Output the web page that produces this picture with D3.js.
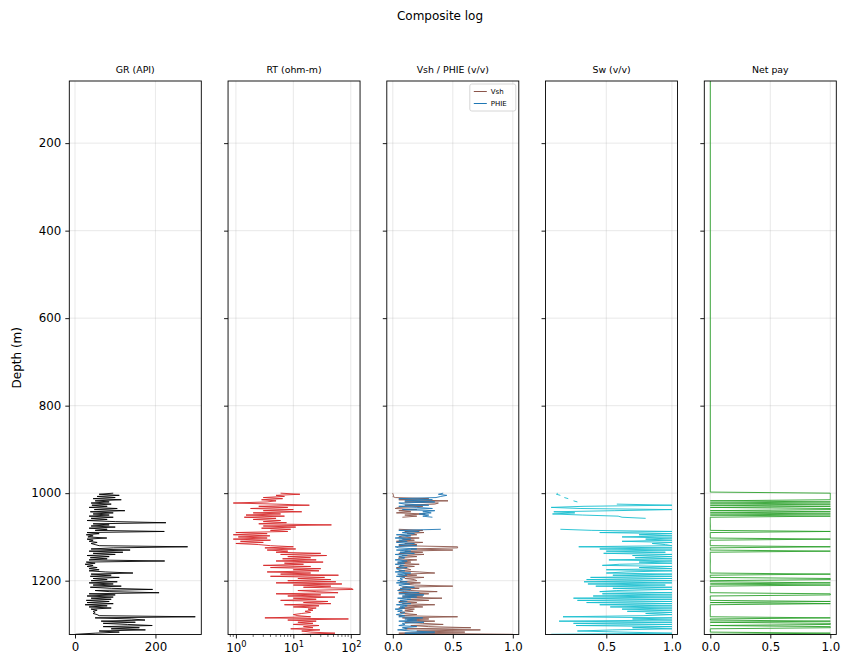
<!DOCTYPE html>
<html>
<head>
<meta charset="utf-8">
<script src="https://cdn.jsdelivr.net/npm/d3@7"></script>
<style>
  body { margin: 0; background: #fff; }
  text { font-family: "DejaVu Sans", sans-serif; fill: #000; }
</style>
</head>
<body>
<div id="chart"></div>
<script>
const width = 848, height = 668;

// depth range of the log file; curves start at 1000 m, sampled every 2.5 m
const depthTop = 58, depthBottom = 1323;
const depthStart = 1000, depthStep = 2.5;
const depthTicks = [200, 400, 600, 800, 1000, 1200];

const gr = [
  95, 60, 110, 55, 100, 45, 115, 50, 85, 40,
  90, 42, 80, 35, 105, 48, 124, 38, 95, 45,
  85, 35, 95, 40, 80, 30, 100, 226, 45, 85,
  40, 100, 35, 80, 50, 222, 30, 60, 28, 45,
  32, 79, 30, 45, 35, 55, 40, 50, 60, 280,
  95, 40, 137, 35, 119, 45, 100, 30, 85, 38,
  80, 35, 223, 28, 50, 25, 45, 30, 55, 35,
  60, 35, 75, 144, 40, 90, 38, 110, 45, 80,
  40, 105, 35, 95, 45, 115, 38, 90, 193, 50,
  85, 209, 35, 100, 30, 95, 40, 90, 28, 85,
  30, 95, 25, 80, 35, 90, 40, 55, 45, 50,
  45, 55, 60, 299, 50, 140, 174, 65, 150, 70,
  130, 192, 70, 160, 90, 175, 60, 110, 50, 1
];

const rt = [
  6, 13, 5, 7, 3, 6.5, 2.8, 5, 3.5, 0.9,
  5, 19, 2.5, 8, 1.8, 10, 3, 14, 2, 6,
  1.5, 7, 1.4, 5, 2, 6, 3, 7.6, 2.5, 46,
  3, 11, 2.8, 9, 4, 8, 1.0, 3.5, 0.9, 3.9,
  1.1, 3.5, 0.9, 4, 1.2, 3, 1.0, 2.5, 4, 10,
  3.2, 11, 3.5, 8, 5, 30, 6, 38, 8, 20,
  6.5, 25, 5, 33, 7, 15, 3, 20, 4, 30,
  10, 28, 3.5, 20, 6, 61, 4, 35, 12, 45,
  8, 55, 5, 70, 10, 45, 15, 100, 110, 12,
  25, 60, 5, 30, 8, 53, 10, 25, 6, 40,
  15, 45, 7, 28, 10, 25, 18, 22, 16, 20,
  14, 10, 12, 20, 3.2, 91, 8, 25, 12, 22,
  10, 28, 15, 22, 9, 29, 14, 20, 53, 14
];

const vsh = [
  0.0, 0.0, 0.01, 0.0, 0.02, 0.30, 0.05, 0.46, 0.10, 0.38,
  0.35, 0.10, 0.25, 0.05, 0.02, 0.20, 0.05, 0.15, 0.03, 0.27,
  0.10, 0.20, 0.08, null, null, null, null, null, null, null,
  null, null, null, 0.05, 0.25, 0.10, 0.26, 0.12, 0.20, 0.08,
  0.05, 0.22, 0.08, 0.18, 0.03, 0.25, 0.10, 0.20, 0.05, 0.54,
  0.54, 0.15, 0.50, 0.10, 0.25, 0.05, 0.26, 0.08, 0.20, 0.05,
  0.05, 0.20, 0.08, 0.15, 0.04, 0.22, 0.06, 0.18, 0.03, 0.12,
  0.15, 0.05, 0.22, 0.35, 0.10, 0.20, 0.05, 0.26, 0.10, 0.18,
  0.20, 0.06, 0.23, 0.10, 0.18, 0.50, 0.08, 0.22, 0.05, 0.15,
  0.37, 0.05, 0.30, 0.10, 0.25, 0.08, 0.41, 0.12, 0.30, 0.05,
  0.20, 0.08, 0.35, 0.10, 0.25, 0.05, 0.18, 0.10, 0.17, 0.06,
  0.10, 0.20, 0.05, 0.54, 0.08, 0.30, 0.12, 0.35, 0.10, 0.25,
  0.42, 0.15, 0.30, 0.65, 0.10, 0.73, 0.20, 0.60, 0.05, 1.0
];

const phie = [
  0.42, 0.38, 0.45, 0.40, 0.36, 0.05, 0.33, 0.10, 0.35, 0.05,
  0.10, 0.30, 0.05, 0.20, 0.33, 0.08, 0.35, 0.25, 0.32, 0.22,
  0.30, 0.25, 0.33, null, null, null, null, null, null, null,
  null, null, null, 0.40, 0.05, 0.22, 0.08, 0.18, 0.03, 0.15,
  0.10, 0.02, 0.15, 0.05, 0.12, 0.03, 0.18, 0.05, 0.20, 0.02,
  0.05, 0.20, 0.03, 0.15, 0.06, 0.18, 0.02, 0.12, 0.05, 0.10,
  0.08, 0.02, 0.12, 0.04, 0.10, 0.02, 0.09, 0.05, 0.12, 0.03,
  0.05, 0.10, 0.02, 0.15, 0.04, 0.12, 0.03, 0.10, 0.06, 0.08,
  0.04, 0.12, 0.03, 0.14, 0.05, 0.08, 0.18, 0.06, 0.15, 0.04,
  0.10, 0.22, 0.05, 0.26, 0.08, 0.20, 0.04, 0.15, 0.06, 0.12,
  0.05, 0.15, 0.03, 0.12, 0.06, 0.10, 0.02, 0.08, 0.04, 0.10,
  0.08, 0.03, 0.10, 0.05, 0.25, 0.10, 0.20, 0.05, 0.26, 0.08,
  0.10, 0.05, 0.20, 0.08, 0.12, 0.04, 0.15, 0.35, 0.10, 0.35
];

const sw = [
  0.13, 0.12, 0.15, null, 0.18, 0.21, null, 0.25, 0.28, null,
  0.58, 1.0, 0.33, 0.08, 0.30, 1.0, 0.56, 0.10, 0.26, 0.09,
  0.32, 0.59, 0.62, 0.80, null, null, null, null, null, null,
  null, null, null, 0.15, 0.39, 1.0, 0.45, 1.0, 0.75, 1.0,
  0.62, 1.0, 0.80, 1.0, 0.62, 1.0, 0.85, 0.95, 1.0, 0.29,
  1.0, 0.45, 1.0, 0.50, 0.95, 0.48, 1.0, 0.70, 1.0, 0.72,
  1.0, 0.52, 1.0, 0.75, 1.0, 0.60, 0.47, 1.0, 0.75, 1.0,
  0.50, 1.0, 0.65, 0.50, 1.0, 0.55, 1.0, 0.38, 1.0, 0.35,
  1.0, 0.33, 1.0, 0.36, 0.95, 0.42, 1.0, 0.55, 1.0, 0.58,
  0.45, 1.0, 0.47, 1.0, 0.40, 1.0, 0.25, 1.0, 0.28, 1.0,
  0.35, 1.0, 0.45, 1.0, 0.53, 1.0, 0.62, 1.0, 0.66, 1.0,
  0.80, 1.0, 0.78, 0.17, 1.0, 0.70, 1.0, 0.14, 1.0, 0.25,
  1.0, 0.27, 1.0, 0.70, 1.0, 0.55, 0.28, 0.62, 1.0, 0.08
];

// net pay flag; zero everywhere above depthStart
const netPay = [
  1, 1, 1, 1, 1, 1, 1, 0, 1, 0,
  1, 0, 1, 0, 1, 1, 0, 1, 0, 1,
  0, 1, 0, 0, 0, 0, 0, 0, 0, 0,
  0, 0, 0, 0, 0, 1, 0, 0, 0, 0,
  0, 0, 1, 0, 0, 0, 0, 0, 0, 1,
  0, 0, 0, 1, 0, 0, 0, 0, 0, 0,
  0, 0, 0, 0, 0, 0, 0, 0, 0, 0,
  0, 0, 0, 0, 1, 0, 0, 0, 1, 1,
  0, 0, 1, 0, 1, 0, 0, 0, 0, 0,
  0, 0, 1, 1, 0, 0, 0, 0, 0, 1,
  0, 1, 0, 0, 0, 0, 0, 0, 0, 0,
  0, 0, 0, 0, 1, 0, 0, 1, 0, 1,
  1, 0, 1, 1, 0, 0, 0, 0, 1, 0
];

const toPoints = vals => vals.map((v, i) => ({ depth: depthStart + i * depthStep, v }));

const netPoints = [{ depth: depthTop, v: 0 }, { depth: depthStart - depthStep, v: 0 }].concat(toPoints(netPay));

const tracks = [
  { title: "GR (API)", type: "linear", domain: [-14.2, 314], ticks: [0, 200], fmt: d3.format("d"),
    series: [{ points: toPoints(gr), color: "black" }] },
  { title: "RT (ohm-m)", type: "log", domain: [0.73, 145], ticks: [1, 10, 100],
    series: [{ points: toPoints(rt), color: "#d62728" }] },
  { title: "Vsh / PHIE (v/v)", type: "linear", domain: [-0.05, 1.05], ticks: [0, 0.5, 1], fmt: d3.format(".1f"),
    series: [{ points: toPoints(vsh), color: "#8c564b", label: "Vsh" },
             { points: toPoints(phie), color: "#1f77b4", label: "PHIE" }] },
  { title: "Sw (v/v)", type: "linear", domain: [0.037, 1.043], ticks: [0.5, 1], fmt: d3.format(".1f"),
    series: [{ points: toPoints(sw), color: "#17becf" }] },
  { title: "Net pay", type: "linear", domain: [-0.05, 1.05], ticks: [0, 0.5, 1], fmt: d3.format(".1f"),
    series: [{ points: netPoints, color: "#2ca02c" }] }
];

const plotTop = 81, plotBottom = 634.5, trackW = 132, firstLeft = 69.3, trackGap = 158.75;

const svg = d3.select("#chart").append("svg")
  .attr("width", width).attr("height", height);

const y = d3.scaleLinear().domain([depthTop, depthBottom]).range([plotTop, plotBottom]);

svg.append("text")
  .attr("x", 440).attr("y", 20)
  .attr("text-anchor", "middle")
  .style("font-size", "12px")
  .text("Composite log");

svg.append("text")
  .attr("transform", `translate(21,${(plotTop + plotBottom) / 2}) rotate(-90)`)
  .attr("text-anchor", "middle")
  .style("font-size", "12px")
  .text("Depth (m)");

tracks.forEach((t, i) => {
  const left = firstLeft + i * trackGap;
  const x = (t.type === "log" ? d3.scaleLog() : d3.scaleLinear())
    .domain(t.domain).range([left, left + trackW]);

  const g = svg.append("g");

  // grid
  g.selectAll("line.vgrid").data(t.ticks).enter().append("line")
    .attr("x1", d => x(d)).attr("x2", d => x(d))
    .attr("y1", plotTop).attr("y2", plotBottom)
    .attr("stroke", "#b0b0b0").attr("stroke-opacity", 0.35).attr("stroke-width", 0.8);
  g.selectAll("line.hgrid").data(depthTicks).enter().append("line")
    .attr("x1", left).attr("x2", left + trackW)
    .attr("y1", d => y(d)).attr("y2", d => y(d))
    .attr("stroke", "#b0b0b0").attr("stroke-opacity", 0.35).attr("stroke-width", 0.8);

  // curves
  const clipId = "clip" + i;
  svg.append("clipPath").attr("id", clipId).append("rect")
    .attr("x", left).attr("y", plotTop).attr("width", trackW).attr("height", plotBottom - plotTop);

  const line = d3.line()
    .defined(d => d.v != null)
    .x(d => x(d.v))
    .y(d => y(d.depth));

  t.series.forEach(s => {
    g.append("path")
      .datum(s.points)
      .attr("clip-path", `url(#${clipId})`)
      .attr("fill", "none")
      .attr("stroke", s.color)
      .attr("stroke-width", 0.9)
      .attr("d", line);
  });

  // frame
  g.append("rect")
    .attr("x", left).attr("y", plotTop).attr("width", trackW).attr("height", plotBottom - plotTop)
    .attr("fill", "none").attr("stroke", "black").attr("stroke-width", 0.9);

  // title
  g.append("text")
    .attr("x", left + trackW / 2).attr("y", 73)
    .attr("text-anchor", "middle")
    .style("font-size", "9.4px")
    .text(t.title);

  // depth axis (labels only on the first track)
  const yAxis = d3.axisLeft(y).tickValues(depthTicks).tickSize(4).tickPadding(4)
    .tickFormat(i > 0 ? "" : d3.format("d"));
  const ya = g.append("g").attr("transform", `translate(${left},0)`).call(yAxis);
  ya.select(".domain").remove();
  ya.selectAll("text").style("font-size", "11.8px").style("font-family", "DejaVu Sans");
  ya.selectAll("line").attr("stroke-width", 0.9);

  // x axis
  const xa = g.append("g").attr("transform", `translate(0,${plotBottom})`);
  if (t.type === "log") {
    const xAxis = d3.axisBottom(x).tickValues(t.ticks).tickSize(4).tickFormat("");
    xa.call(xAxis);
    xa.selectAll(".tick").append("text")
      .attr("y", 17.5).attr("text-anchor", "middle")
      .style("font-size", "11.8px")
      .each(function(d) {
        const txt = d3.select(this);
        txt.append("tspan").text("10");
        txt.append("tspan").attr("dy", -5).style("font-size", "8.3px").text(Math.round(Math.log10(d)));
      });
    const minor = [];
    [0.1, 1, 10, 100].forEach(b => {
      for (let k = 2; k <= 9; k++) {
        const v = b * k;
        if (v >= t.domain[0] && v <= t.domain[1]) minor.push(v);
      }
    });
    xa.selectAll("line.minor").data(minor).enter().append("line")
      .attr("x1", d => x(d)).attr("x2", d => x(d))
      .attr("y1", 0).attr("y2", 2.4)
      .attr("stroke", "black").attr("stroke-width", 0.6);
  } else {
    const xAxis = d3.axisBottom(x).tickValues(t.ticks).tickSize(4).tickPadding(4).tickFormat(t.fmt);
    xa.call(xAxis);
    xa.selectAll("text").style("font-size", "11.8px").style("font-family", "DejaVu Sans");
  }
  xa.select(".domain").remove();
  xa.selectAll(".tick line").attr("stroke-width", 0.9);

  // legend for the Vsh / PHIE track
  const labelled = t.series.filter(s => s.label);
  if (labelled.length) {
    const lg = g.append("g").attr("transform", `translate(${left + trackW - 49},${plotTop + 3})`);
    lg.append("rect")
      .attr("width", 46).attr("height", 27).attr("rx", 2)
      .attr("fill", "white").attr("fill-opacity", 0.8)
      .attr("stroke", "#cccccc").attr("stroke-width", 0.8);
    labelled.forEach((s, k) => {
      const yy = 7.5 + k * 12;
      lg.append("line")
        .attr("x1", 4).attr("x2", 17).attr("y1", yy).attr("y2", yy)
        .attr("stroke", s.color).attr("stroke-width", 1);
      lg.append("text")
        .attr("x", 21).attr("y", yy + 2.5)
        .style("font-size", "7px")
        .text(s.label);
    });
  }
});
</script>
</body>
</html>
